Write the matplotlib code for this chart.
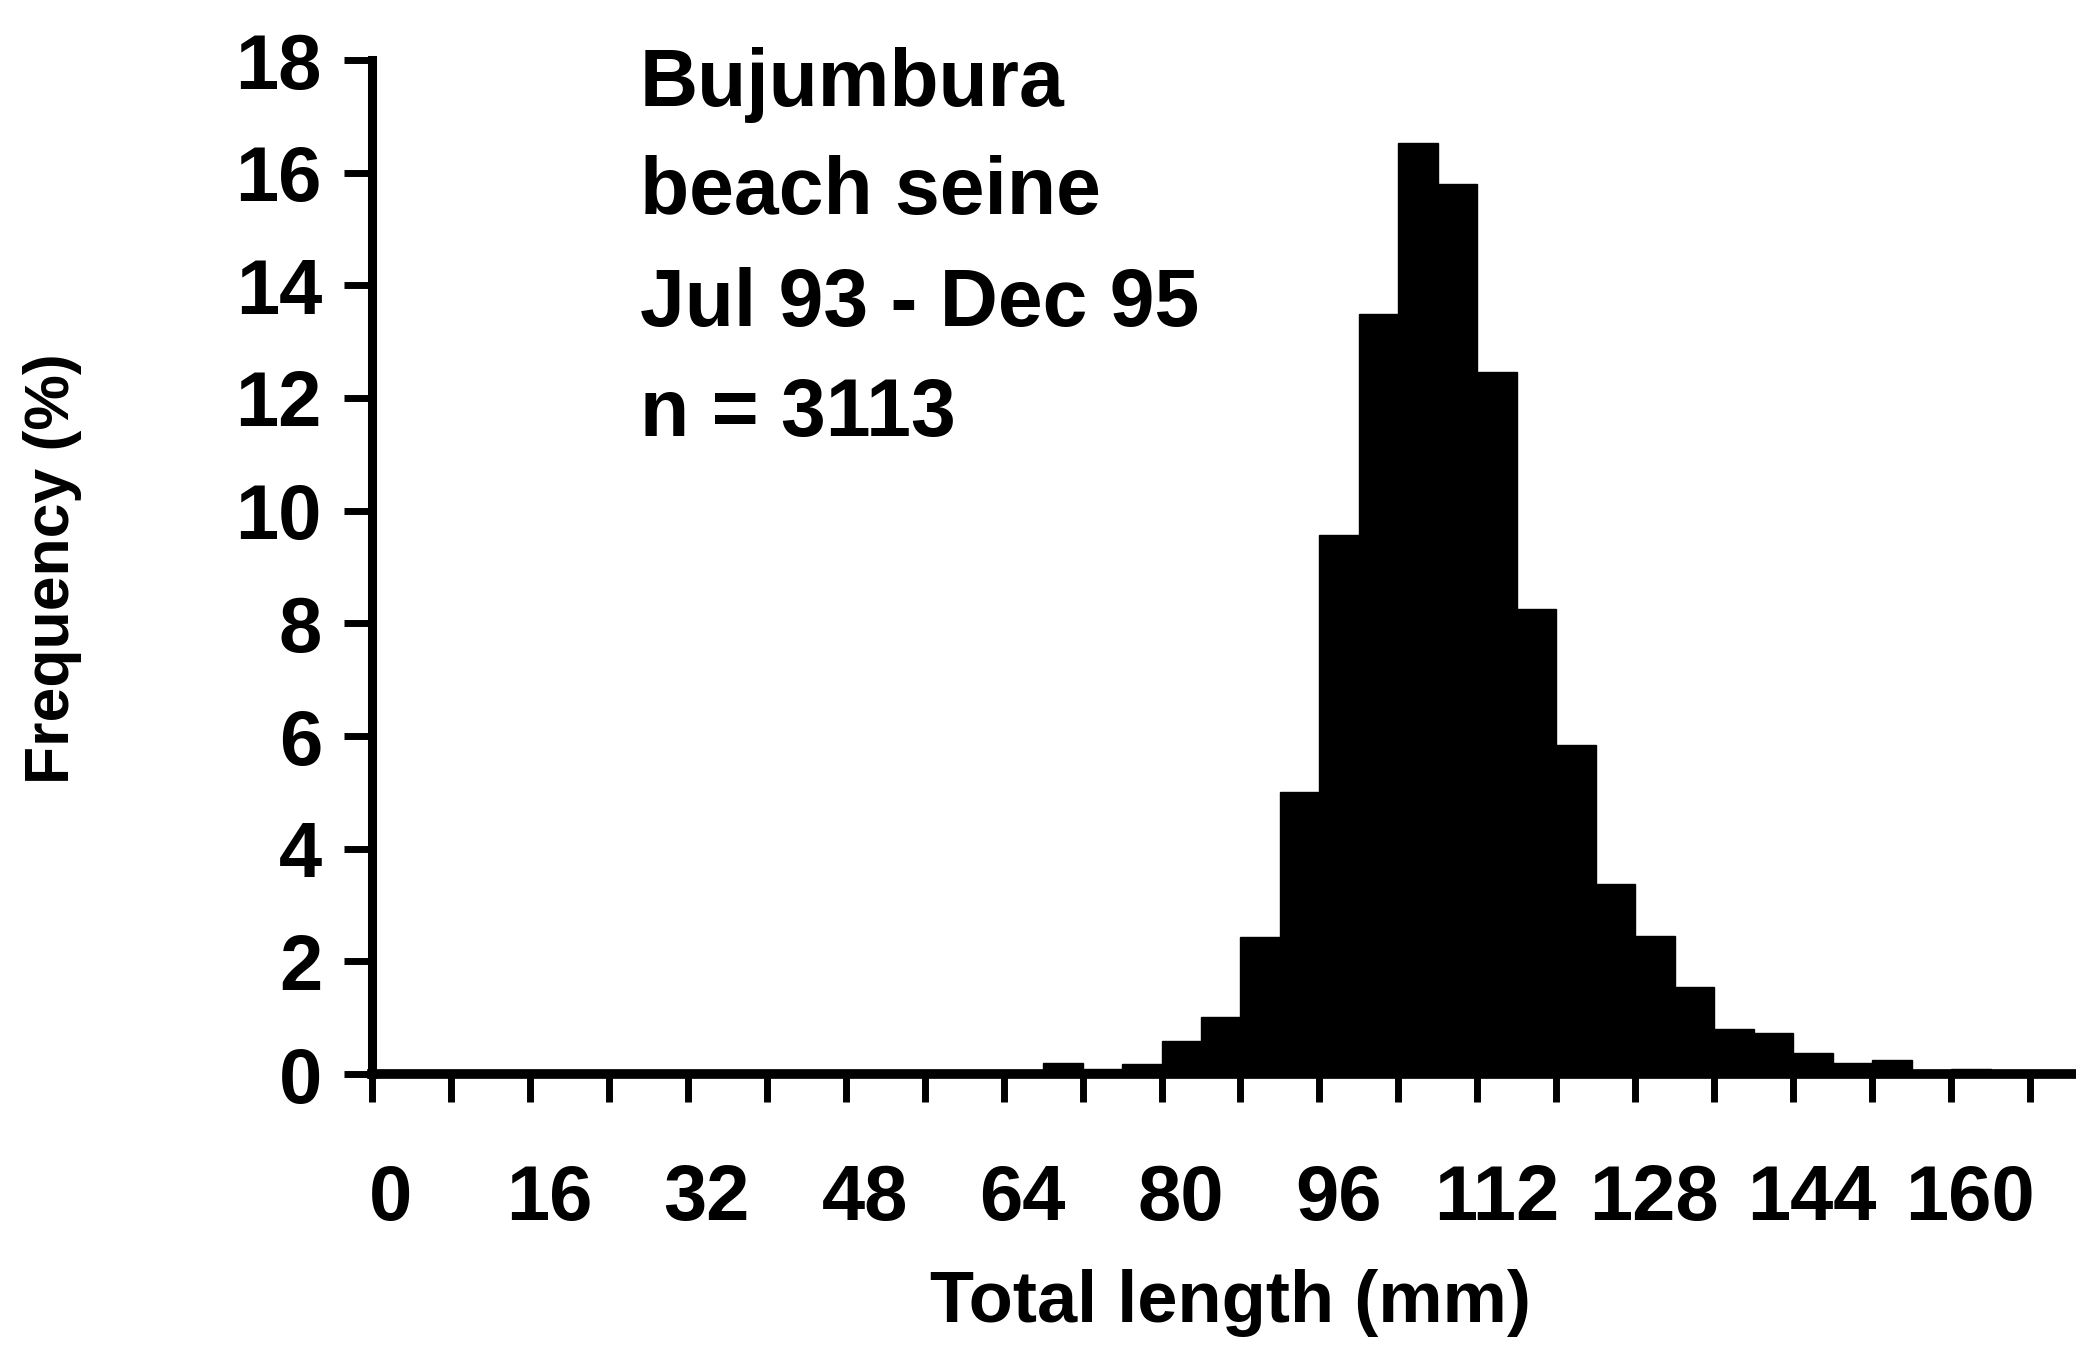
import numpy as np
import matplotlib.pyplot as plt
import matplotlib.transforms as mtransforms
from matplotlib.ticker import FixedLocator

# length classes (left edge of each 4 mm bin) and frequency (%)
bin_width = 4
bin_left = np.arange(0, 172, bin_width)
freq = [0.0, 0.0, 0.0, 0.0, 0.04, 0.02, 0.04, 0.02,
        0.02, 0.02, 0.02, 0.02, 0.02, 0.02, 0.02, 0.02,
        0.06, 0.2, 0.08, 0.18, 0.58, 1.02, 2.43, 5.0,
        9.57, 13.5, 16.53, 15.8, 12.47, 8.25, 5.84, 3.37,
        2.45, 1.55, 0.8, 0.72, 0.38, 0.2, 0.25, 0.06,
        0.08, 0.03, 0.03]

x_ticks = np.arange(0, 169, 8)
x_labels = [str(v) if v % 16 == 0 else '' for v in x_ticks]
y_ticks = np.arange(0, 19, 2)

info_lines = ['Bujumbura', 'beach seine', 'Jul 93 - Dec 95', 'n = 3113']

plt.rcParams['font.family'] = ['Liberation Sans', 'DejaVu Sans']
plt.rcParams['font.weight'] = 'bold'

W, H = 2076, 1356
fig = plt.figure(figsize=(W / 100, H / 100), dpi=100)

# axes placed so that x=0 sits at px 372, y=0 at px 1074, y=18 at px 60
x0, y0, y18 = 372, 1074, 60
ax = fig.add_axes([x0 / W, 1 - y0 / H, 1 - x0 / W, (y0 - y18) / H])

ax.bar(bin_left, freq, width=bin_width, align='edge',
       color='black', edgecolor='black', linewidth=1, zorder=2)

ax.set_xlim(0, (W - x0) / 9.869)
ax.set_ylim(0, 18)

for s in ['top', 'right']:
    ax.spines[s].set_visible(False)
ax.spines['left'].set_linewidth(6.5)
ax.spines['bottom'].set_linewidth(7)
ax.spines['left'].set_bounds(0, 18)
ax.spines['left'].set_zorder(3)
ax.spines['bottom'].set_zorder(3)

ax.xaxis.set_major_locator(FixedLocator(x_ticks))
ax.set_xticklabels(x_labels)
ax.set_yticks(y_ticks)
ax.set_yticklabels([str(v) for v in y_ticks])

ax.tick_params(axis='both', direction='out', length=20, width=5,
               color='black')
ax.tick_params(axis='x', labelsize=56, pad=44)
ax.tick_params(axis='y', labelsize=56, pad=16)

# labels in the original sit a little right of their ticks
shift = mtransforms.ScaledTranslation(0.19, 0, fig.dpi_scale_trans)
for lab in ax.get_xticklabels():
    lab.set_transform(lab.get_transform() + shift)
    lab.set_fontweight('bold')
for lab in ax.get_yticklabels():
    lab.set_fontweight('bold')

baselines = [106, 214, 326, 436]
for txt, yb in zip(info_lines, baselines):
    fig.text(640 / W, 1 - yb / H, txt, fontsize=58, fontweight='bold',
             ha='left', va='baseline')

fig.text(1231 / W, 1 - 1322 / H, 'Total length (mm)', fontsize=52,
         fontweight='bold', ha='center', va='baseline')
fig.text(53 / W, 1 - 569 / H, 'Frequency (%)', fontsize=45,
         fontweight='bold', rotation=90, ha='center', va='center')

fig.savefig('out.png', dpi=100, facecolor='white')
